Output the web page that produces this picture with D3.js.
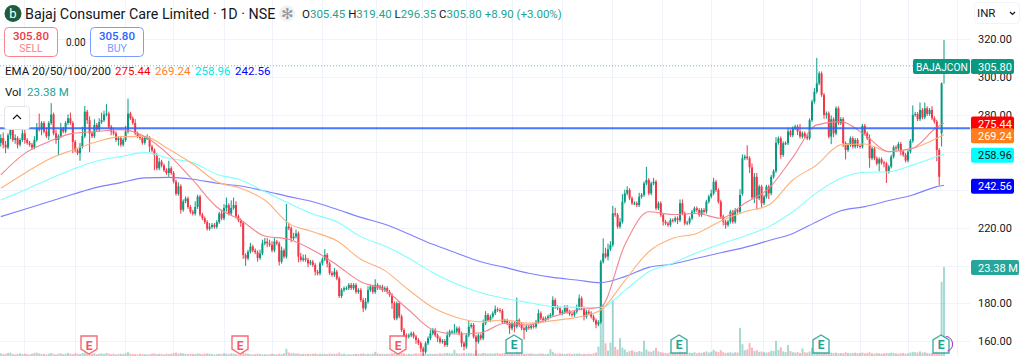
<!DOCTYPE html>
<html lang="en">
<head>
  <meta charset="UTF-8">
  <title>Bajaj Consumer Care Limited</title>
  <script src="https://d3js.org/d3.v7.min.js"></script>
  <style>
    * { margin: 0; padding: 0; box-sizing: border-box; }
    body { background: #fff; overflow: hidden; font-family: Roboto, "Open Sans", sans-serif; }
    text { font-family: Roboto, "Open Sans", sans-serif; }
  </style>
</head>
<body>
  <div id="chart"></div>
  <script>
    // daily closes, ten bars a line
    const closes = [
      267.5,264,262.5,269,272,266.5,267.5,264,266.5,270,
      266.5,265,264,262.5,266.5,272.5,272,275.5,271,268.5,
      275.5,280,270,266.5,268.5,272.5,271,275.5,278,275.5,
      265.5,261,259.5,263,268.5,281.5,277,270,268.5,274.5,
      272,276,277,280,280.5,273.5,271,270,266.5,267.5,
      264,266.5,271,280.5,278,275.5,270,268.5,267.5,265,
      267.5,267.5,263,261,258.5,251.5,255,253,250.5,249,
      251.5,249,244.5,238,242,229.5,234,235.5,231,228.5,
      227.5,231,236.5,227,225,223,219.5,220.5,221.5,220.5,
      223,227.5,225,230.5,232,227.5,230.5,232,226,224,
      222.5,205.5,203.8,207.3,210,208,207,204,206.4,211.7,
      212.6,211.7,210.9,208,212.6,211.7,202,208,204.7,220.6,
      219.7,214.4,215.3,217,204.7,203,203.8,203,201.1,202,
      200.3,196.7,195.8,201.1,203.3,205.6,201,196,195,196.7,
      193.2,183.8,187,187.9,188,189.7,188,189.7,186,187,
      181.7,177.3,180.8,187,188.8,186,189.7,188,188.8,187,
      188,186,184.4,180,172,180,173,165.8,163,162.3,
      163,164,162.3,160.5,158.8,156,154.3,158.8,161.4,164,
      165.8,163,161.4,159.6,160,157.9,163,165,165,165,
      166.7,164,158.8,157,163,167.6,168.5,162.3,159.6,163,
      161.4,169.4,173.8,171,172.9,174.7,176.8,176.4,176,170,
      170.8,169.4,166.7,169.4,167.6,171,168.5,166.7,165.8,167.6,
      167,168,167.6,170.2,174.7,172,171,172,173,173.8,
      181.7,178,177.3,174.7,175.5,178,175.5,174.3,173.8,175.5,
      177.3,182.6,177.3,172.9,175.5,174.7,172.9,171,168.8,170,
      202,206.4,204.7,208.6,210.9,227.6,226.8,220.6,223.2,233.8,
      238.2,240,235.6,233,233,232,236.5,237.4,243.5,245.3,
      238.2,243.5,244.4,230.3,233,226.8,223.2,222.3,221.5,224,
      223.8,225,224,233,227.6,222.3,222.7,225,228.5,230.3,
      229.4,226.8,229.4,228.5,233.8,236.5,238.2,244.4,240,233.8,
      225.9,223.2,221.5,223.2,228.5,223.2,229.4,228.5,237.4,256.8,
      257.7,256.8,252,236,247,235.6,241.8,233,236.5,241.8,
      238.2,247,250,265,267.4,258.6,264.8,264.8,271,269,
      272.7,273.6,271,268.3,270,268.3,267.4,277,286.8,292,
      296.5,301.8,290.4,279.8,280.6,268.3,277.5,270,283.3,275.4,
      277.6,264.8,261.2,263.9,267.4,263,266.5,263.3,263,274,
      270,267.4,256.8,262,256.8,254,256.3,254.5,254,249.7,
      252.4,257.7,262.6,262,264.4,260.3,258.6,255.6,260.3,266,
      279.8,280.3,277.5,282.4,278.5,283.3,280.3,282.4,278,276.2,
      261.2,247,296.5,305.8
    ];

    // opens follow the previous close, except these gaps
    const openGaps = { 0: 265, 309: 238, 392: 270, 393: 305.45 };

    const upperWick = [
      2,3,2,1,4,1,2,1,1,2,
      2,1,1,1,2,3,8,1,1,2,
      1,6,1,2,1,3,1,1,2,3,
      1,1,1,2,5,3,1,2,1,3,
      1,2,4,2,5,1,1,2,1,1,
      1,1,3,8,1,1,2,1,1,1,
      1,2,1,1,1,1,2,1,1,1,
      4,1,1,1,2,1,1,1,1,1,
      1,3,1,1,1,1,1,2,1,1,
      1,1,2,2,4,1,4,4,2,1,
      1,1,1,1,2,1,1,1,2,2,
      2,2,2,2,2,1,1,2,1,12,
      2,1,2,2,1,2,2,2,1,1,
      1,1,1,1,1,3,1,1,1,2,
      1,1,1,1,1,1,1,1,1,1,
      1,1,2,2,1,1,3,1,1,1,
      1,1,1,1,1,1,1,1,1,1,
      1,1,1,1,1,1,1,1,1,2,
      1,1,1,1,1,1,2,1,1,4,
      1,1,1,1,1,3,1,1,1,1,
      1,2,2,1,1,1,2,1,1,1,
      1,1,1,1,1,12,1,1,1,1,
      1,1,1,1,2,1,1,1,1,1,
      2,1,1,1,1,1,1,1,1,1,
      2,2,1,1,1,1,1,1,1,1,
      1,8,3,3,2,4,3,1,2,4,
      2,2,1,1,1,1,2,1,1,7,
      1,1,2,1,1,1,1,1,1,1,
      1,1,1,2,2,1,1,1,1,1,
      1,1,1,1,1,1,2,2,1,1,
      1,1,1,1,1,1,1,1,3,2,
      1,6,1,2,2,2,1,1,1,1,
      1,1,1,3,1,1,1,1,2,1,
      1,1,1,4,1,1,1,1,1,2,
      13.5,1,1,1,1,1,2,1,1,1,
      1,1,1,1,1,1,1,1,1,1,
      1,1,2,1,1,1,1,1,1,1,
      1,1,1,1,1,1,1,1,1,1,
      5,1,1,4,1,3,1,1,2,1,
      1,1,0.5,13.6
    ];

    const lowerWick = [
      2,2,3,1,2,1,2,2,1,1,
      2,1,1,1,1,1,1,3,1,1,
      2,1,1,2,8,1,1,1,1,1,
      6,1,1,4,1,1,2,10,1,1,
      1,1,1,1,1,1,2,1,1,3,
      1,1,1,1,1,1,1,1,1,1,
      1,1,3,1,8,1,1,1,1,1,
      2,1,1,1,1,2,1,1,1,1,
      1,1,1,1,1,1,1,1,1,1,
      1,1,1,1,2,1,1,1,1,1,
      2,2,4,1,1,1,1,2,1,1,
      1,2,1,1,1,1,2,1,1,1,
      1,2,1,1,3,1,1,1,2,1,
      1,2,1,1,1,1,2,1,1,1,
      1,1,1,1,1,1,1,1,1,1,
      1,2,1,1,1,1,1,1,1,1,
      1,1,1,3,1,1,1,1,1,1,
      1,1,1,2,1,2,3,1,1,1,
      1,1,2,1,1,1,1,1,1,1,
      1,1,2,2,1,1,1,1,8,1,
      1,1,1,1,1,1,1,1,1,1,
      1,1,3,1,3,1,1,1,5,1,
      1,1,1,1,1,1,1,1,1,1,
      1,1,1,1,1,1,1,1,1,1,
      1,1,1,2,1,1,1,1,2,1,
      1,1,1,2,1,1,1,1,1,1,
      1,1,1,1,1,1,1,1,1,1,
      1,1,1,1,1,1,2,1,1,1,
      1,1,2,1,1,1,1,1,1,1,
      1,1,1,1,1,1,1,1,1,1,
      1,2,2,1,1,1,1,1,1,1,
      1,1,3,1,3,6,1,2,1,1,
      3,1,1,1,1,2,1,1,1,1,
      1,1,2,1,1,1,1,1,1,1,
      1,1,1,2,2,1,4,2,1,1,
      1,2,5,1,1,1,1,1,1,1,
      1,1,5,1,1,1,4,1,2,6,
      1,1,1,1,1,2,1,1,1,1,
      1,1,1,1,1,1,1,1,1,1,
      6,4.5,7,9.1
    ];

    // volume in millions
    const volumes = [
      .7,.5,.6,.8,.9,.5,.4,.6,.7,.5,
      .6,.5,.4,.6,.8,.9,.7,.5,.6,.4,
      .6,.8,.5,.4,.6,.7,.5,.6,.8,.6,
      .5,.7,.6,.5,.8,.9,.6,.5,.6,.7,
      .5,.6,.7,.5,.8,.6,.5,.6,.4,.5,
      .6,.5,.7,1,.6,.5,.5,.4,.6,.5,
      .5,.4,.5,.6,.7,.5,.6,.5,.4,.6,
      .5,.6,.7,.9,.6,.8,.7,.6,.5,.6,
      .6,.5,.7,.6,.5,.6,.7,.6,.5,.4,
      .5,.6,.5,.7,.6,.5,.7,.6,.5,.4,
      .5,1.2,.7,.6,.5,.4,.5,.6,.5,.4,
      .5,.4,.5,.6,.5,.4,.6,.5,.7,1.9,
      .9,.7,.8,.6,.7,.5,.6,.5,.6,.5,
      .6,.7,.5,.6,.5,.6,.5,.7,.5,.6,
      .6,.9,.5,.6,.4,.5,.4,.5,.6,.5,
      .6,.7,.5,.6,.5,.6,1.1,.7,.5,.6,
      .5,.6,.5,.7,.8,.6,.7,.8,.7,.5,
      .6,.5,.6,.7,.6,.7,.8,.6,.5,.6,
      .5,.6,.5,.7,.6,.7,.8,.7,.6,1.6,
      .7,.6,.7,.8,.6,.8,.7,.6,1.5,.7,
      .6,.8,.7,.6,.7,.6,.7,.8,.6,.7,
      .8,.6,.7,.6,.7,1.4,.9,.7,.6,.6,
      .6,.7,.6,.5,.6,.7,.6,.5,.6,1.8,
      1.1,.7,.6,.7,.6,.5,.6,.7,.5,.6,
      .6,.7,.5,.6,.5,.6,.5,.7,.9,2.5,
      13,13.6,3.3,1.4,3.5,14.7,2.4,1.7,4.7,2.2,
      1.7,1,1.3,1.5,1.2,1,1.3,1.1,4,1.7,
      1.2,1.1,1.4,2.1,1.2,1,.9,.8,.7,1,
      .8,.9,.8,1.4,1.1,.8,.7,.9,.8,1,
      .7,.9,.8,1,1.2,.9,1.1,1.6,1.2,1,
      1.5,1,.8,.9,1,.8,1,.9,7.4,3.1,
      1.5,1.7,3.4,2.2,1.3,1.5,1.1,1.2,1,.9,
      1,1.4,1.3,4,1.6,2.3,1.2,1,2.9,1.3,
      1,.9,1.1,.8,2,1,.9,1.2,2.2,1.6,
      1.4,1.2,1.1,.8,.9,1,.9,.8,.9,.7,
      .8,.7,1,.8,.7,.8,.9,.7,.8,.9,
      .7,.8,1,.7,.6,.8,.7,.6,.7,.8,
      .7,.9,.8,.7,.6,.7,.8,.6,.7,.9,
      1.1,1,.9,1.2,.9,1,.8,.7,.8,1,
      1.6,2.6,19.5,23.38
    ];

    // EMA readings, one every ten bars, then the last bar
    const emaBars = d3.range(0, 391, 10).concat(393);
    const ema20 = [248,259.4,265.6,270,271,272,268.3,258.6,245.3,231,224,215.6,213.9,208.2,200.3,191.4,187,176.4,166,163.7,164.4,169.4,168.5,172.9,176.4,178,210.9,228.5,227,227.6,225,233,240.9,257.3,274.5,276.2,269.2,260.3,262.1,273.2,275.44];
    const ema50 = [240.9,248.9,256.3,261.2,265.6,268.3,268.3,261.6,253.8,244.4,240.9,234.7,222.3,217.9,213.1,203.3,197.3,187,177.7,172.5,170.2,171.1,169.4,170.8,172.5,176.4,192,207.3,214.4,217,223.6,228.5,232,245.3,253.3,263.9,264.4,260.3,262.1,267.4,269.24];
    const ema100 = [234.7,240,245.7,251,255.4,257.7,259.8,256.8,254.5,248.3,245.3,239.1,233,227.3,223.2,215.3,210.3,203.8,196.2,190.2,185.6,182.6,180.3,178.2,177.8,177.7,186.7,196.7,201.2,206.8,211.4,215.6,220.6,228.5,238.6,246.2,249.4,249.7,253.3,257.7,258.96];
    const ema200 = [225.9,229.8,233.8,237.7,241.4,243.9,246.4,246.7,245.7,243.6,242.1,239.5,236.5,233.8,229.8,225.5,221.8,216.7,211.2,206.5,202,199,195.9,193.7,192.3,190.9,194.1,199,200.8,203.8,206.8,209.6,213.2,217,223.2,229,231.2,234.4,237.4,241.8,242.56];

    const priceTicks = [320, 300, 280, 260, 240, 220, 200, 180, 160];
    // 260, 240 and 200 sit under the value tags in the picture
    const priceLabels = [320, 300, 280, 220, 180, 160];
    const monthLines = [24, 75, 125, 173, 224, 272, 322, 376, 422, 466, 512, 562, 612, 662, 711, 763, 812, 860, 908, 957];
    const earningsRed = [89, 240, 398];
    const earningsGreen = [514, 679, 821, 941];
    const levelPrice = 272.7;

    const W = 1024, H = 356, plotRight = 970;
    const GREEN = "#089981", RED = "#f23645";

    const svg = d3.select("#chart").append("svg").attr("width", W).attr("height", H).style("display", "block");

    const x = d3.scaleLinear().domain([0, 393]).range([0.8, 944]);
    const y = d3.scaleLinear().domain([160, 320]).range([341, 39]);
    const yVol = d3.scaleLinear().domain([0, 23.38]).range([356, 267]);

    const opens = closes.map((c, i) => openGaps[i] !== undefined ? openGaps[i] : closes[i - 1]);

    // grid
    svg.append("g").selectAll("line").data(monthLines).join("line")
      .attr("x1", d => d + .5).attr("x2", d => d + .5).attr("y1", 0).attr("y2", H)
      .attr("stroke", "#f0f3fa");
    svg.append("g").selectAll("line").data(priceTicks).join("line")
      .attr("x1", 0).attr("x2", plotRight).attr("y1", d => Math.round(y(d)) + .5).attr("y2", d => Math.round(y(d)) + .5)
      .attr("stroke", "#f0f3fa");

    // volume
    svg.append("g").selectAll("rect").data(volumes).join("rect")
      .attr("x", (d, i) => x(i) - 1)
      .attr("width", 2)
      .attr("y", d => yVol(d))
      .attr("height", d => H - yVol(d))
      .attr("fill", (d, i) => closes[i] >= opens[i] ? GREEN : RED)
      .attr("opacity", .36);

    // last price dotted line
    svg.append("line").attr("x1", 0).attr("x2", plotRight).attr("y1", y(305.8)).attr("y2", y(305.8))
      .attr("stroke", GREEN).attr("stroke-dasharray", "1 2").attr("opacity", .6);

    // candles
    const candles = svg.append("g");
    candles.selectAll("line").data(closes).join("line")
      .attr("x1", (d, i) => x(i)).attr("x2", (d, i) => x(i))
      .attr("y1", (d, i) => y(Math.max(d, opens[i]) + upperWick[i]))
      .attr("y2", (d, i) => y(Math.min(d, opens[i]) - lowerWick[i]))
      .attr("stroke", (d, i) => d >= opens[i] ? GREEN : RED)
      .attr("stroke-width", 1);
    candles.selectAll("rect").data(closes).join("rect")
      .attr("x", (d, i) => x(i) - 1)
      .attr("width", 2)
      .attr("y", (d, i) => y(Math.max(d, opens[i])))
      .attr("height", (d, i) => Math.max(1, Math.abs(y(d) - y(opens[i]))))
      .attr("fill", (d, i) => d >= opens[i] ? GREEN : RED);

    // EMAs
    const line = d3.line().x((d, i) => x(emaBars[i])).y(d => y(d)).curve(d3.curveMonotoneX);
    [[ema200, "#8080ff"], [ema100, "#80ffff"], [ema50, "#ffb27a"], [ema20, "#f5848c"]].forEach(([vals, col]) => {
      svg.append("path").attr("d", line(vals)).attr("fill", "none").attr("stroke", col).attr("stroke-width", 1.1);
    });

    // horizontal level
    svg.append("line").attr("x1", 0).attr("x2", plotRight).attr("y1", y(levelPrice)).attr("y2", y(levelPrice))
      .attr("stroke", "#2962ff").attr("stroke-width", 2).attr("opacity", .85);

    // earnings flags
    const flagRed = "M-8,-9 H8 V4 L0,9 L-8,4 Z";
    const flagGreen = "M-8,9 H8 V-4 L0,-9 L-8,-4 Z";
    const flags = (data, path, col, cy) => {
      const g = svg.append("g").selectAll("g").data(data).join("g").attr("transform", d => `translate(${d},${cy})`);
      g.append("path").attr("d", path).attr("fill", "#fff").attr("stroke", col).attr("stroke-width", 1.4).attr("opacity", .85);
      g.append("text").attr("text-anchor", "middle").attr("y", 4.5).attr("font-size", 12).attr("font-weight", 700).attr("fill", col).text("E");
    };
    flags(earningsRed, flagRed, "#f7525f", 345);
    flags(earningsGreen, flagGreen, "#22a394", 344);
    svg.append("path").attr("d", d3.arc()({ innerRadius: 7, outerRadius: 8.2, startAngle: 0.1, endAngle: 2.8 }))
      .attr("transform", "translate(945,344)").attr("fill", "#ab47bc");

    // price scale
    svg.append("rect").attr("x", plotRight).attr("y", 0).attr("width", W - plotRight).attr("height", H).attr("fill", "#fff");
    const axis = svg.append("g").attr("transform", `translate(978,0)`)
      .call(d3.axisRight(y).tickValues(priceLabels).tickFormat(d3.format(".2f")).tickSize(0).tickPadding(0));
    axis.select(".domain").remove();
    axis.selectAll("text").attr("font-size", 11).attr("fill", "#131722");

    const tag = (yc, h, bg, fg, label, x0 = 971, x1 = 1014) => {
      svg.append("rect").attr("x", x0).attr("y", yc - h / 2).attr("width", x1 - x0).attr("height", h).attr("rx", 2).attr("fill", bg);
      svg.append("text").attr("x", 978).attr("y", yc + 4).attr("font-size", 11).attr("fill", fg).text(label);
    };
    tag(y(275.44) + 1, 15, "#ff0000", "#fff", "275.44");
    tag(y(269.24) + 1, 15, "#ff7f1e", "#fff", "269.24");
    tag(y(258.96) + 1, 15, "#00ffff", "#131722", "258.96");
    tag(y(242.56) + 1, 15, "#0000ff", "#fff", "242.56");
    tag(267.5, 15, "#26a69a", "#fff", "23.38 M", 971, 1019);
    tag(66.5, 15, GREEN, "#fff", "305.80");
    svg.append("rect").attr("x", 913).attr("y", 59).attr("width", 57).attr("height", 15).attr("rx", 2).attr("fill", GREEN);
    svg.append("text").attr("x", 916).attr("y", 70.5).attr("font-size", 10.2).attr("fill", "#fff").text("BAJAJCON");

    svg.append("rect").attr("x", 974.5).attr("y", 2.5).attr("width", 45).attr("height", 21).attr("rx", 4).attr("fill", "#fff").attr("stroke", "#f0f3fa");
    svg.append("text").attr("x", 977).attr("y", 17).attr("font-size", 11.5).attr("fill", "#131722").text("INR");
    svg.append("path").attr("d", "M1010,12 L1012.5,14.5 L1015,12").attr("fill", "none").attr("stroke", "#131722").attr("stroke-width", 1.2);

    // header
    svg.append("circle").attr("cx", 13).attr("cy", 13.5).attr("r", 8.5).attr("fill", "#1d5c3f");
    svg.append("text").attr("x", 13).attr("y", 18).attr("text-anchor", "middle").attr("font-size", 13).attr("fill", "#fff").text("b");
    svg.append("text").attr("x", 25).attr("y", 19).attr("font-size", 14.3).attr("fill", "#131722").text("Bajaj Consumer Care Limited · 1D · NSE");
    svg.append("circle").attr("cx", 287).attr("cy", 13.5).attr("r", 8).attr("fill", "#f0f1f3");
    svg.append("text").attr("x", 287).attr("y", 19).attr("text-anchor", "middle").attr("font-size", 15).attr("fill", "#9598a1").text("✻");

    const ohlc = svg.append("text").attr("x", 302).attr("y", 18).attr("font-size", 11.5).attr("fill", "#22a394");
    [["O", "305.45"], ["H", "319.40"], ["L", "296.35"], ["C", "305.80"]].forEach(([k, v]) => {
      ohlc.append("tspan").attr("fill", "#131722").text(k);
      ohlc.append("tspan").text(v + " ");
    });
    ohlc.append("tspan").text("+8.90 (+3.00%)");

    const box = (x0, col, pale, label) => {
      svg.append("rect").attr("x", x0 + .5).attr("y", 27.5).attr("width", 53).attr("height", 29).attr("rx", 4).attr("fill", "#fff").attr("stroke", pale);
      svg.append("text").attr("x", x0 + 27).attr("y", 40).attr("text-anchor", "middle").attr("font-size", 11.5).attr("font-weight", 500).attr("fill", col).text("305.80");
      svg.append("text").attr("x", x0 + 27).attr("y", 52).attr("text-anchor", "middle").attr("font-size", 10.5).attr("fill", pale).text(label);
    };
    box(4, "#f23645", "#f7838c", "SELL");
    box(90, "#2962ff", "#7a9bff", "BUY");
    svg.append("text").attr("x", 66).attr("y", 46).attr("font-size", 10).attr("fill", "#131722").text("0.00");

    const emaLegend = [["275.44", "#ff0000", 115], ["269.24", "#ff7f1e", 155], ["258.96", "#00e5e5", 195], ["242.56", "#0000ff", 235]];
    svg.append("text").attr("x", 5).attr("y", 75).attr("font-size", 11.5).attr("fill", "#131722").text("EMA 20/50/100/200");
    emaLegend.forEach(([v, c, lx]) => {
      svg.append("text").attr("x", lx).attr("y", 75).attr("font-size", 11.5).attr("fill", c).text(v);
    });
    svg.append("text").attr("x", 5).attr("y", 96).attr("font-size", 11.5).attr("fill", "#131722").text("Vol");
    svg.append("text").attr("x", 27).attr("y", 96).attr("font-size", 11.5).attr("fill", "#22a394").text("23.38 M");

    svg.append("rect").attr("x", 4.5).attr("y", 106.5).attr("width", 25).attr("height", 23).attr("rx", 3).attr("fill", "#fff").attr("stroke", "#e0e3eb");
    svg.append("path").attr("d", "M13,119 L17,115 L21,119").attr("fill", "none").attr("stroke", "#131722").attr("stroke-width", 1.2);
  </script>
</body>
</html>
